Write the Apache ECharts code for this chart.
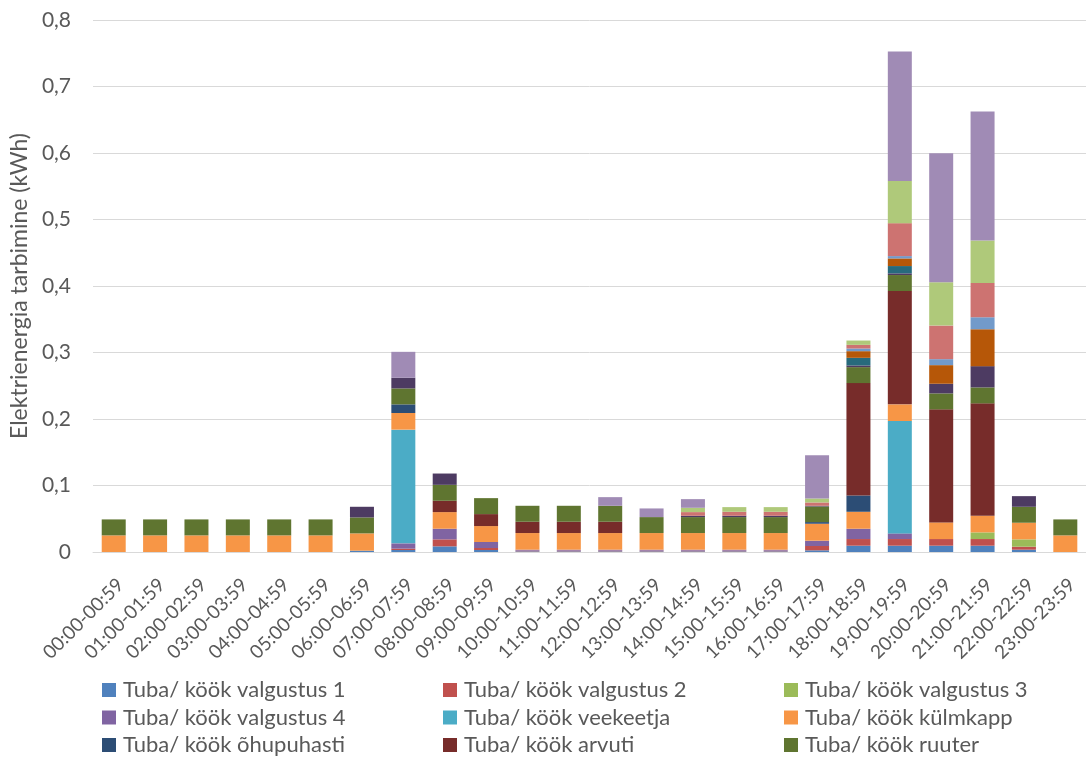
<!DOCTYPE html>
<html>
<head>
<meta charset="utf-8">
<script src="https://cdn.jsdelivr.net/npm/echarts@6/dist/echarts.min.js"></script>
<style>
  html, body { margin: 0; padding: 0; background: #fff; }
  #chart { width: 1086px; height: 758px; }
</style>
</head>
<body>
<div id="chart"></div>
<script>
// Hourly electricity use of room/kitchen appliances (kWh), stacked per hour
const hours = [
  '00:00-00:59', '01:00-01:59', '02:00-02:59', '03:00-03:59', '04:00-04:59', '05:00-05:59',
  '06:00-06:59', '07:00-07:59', '08:00-08:59', '09:00-09:59', '10:00-10:59', '11:00-11:59',
  '12:00-12:59', '13:00-13:59', '14:00-14:59', '15:00-15:59', '16:00-16:59', '17:00-17:59',
  '18:00-18:59', '19:00-19:59', '20:00-20:59', '21:00-21:59', '22:00-22:59', '23:00-23:59'
];
const yTicks = ['0', '0,1', '0,2', '0,3', '0,4', '0,5', '0,6', '0,7', '0,8'];

const valgustus1 = [0, 0, 0, 0, 0, 0, 0.002, 0.003, 0.0085, 0.003, 0.001, 0.001, 0.001, 0.001, 0.001, 0.001, 0.001, 0.0025, 0.0095, 0.0095, 0.0095, 0.0095, 0.0035, 0];
const valgustus2 = [0, 0, 0, 0, 0, 0, 0, 0.002, 0.0105, 0.003, 0.001, 0.001, 0.001, 0.001, 0.001, 0.001, 0.001, 0.0065, 0.010, 0.010, 0.010, 0.010, 0.0045, 0];
const valgustus3 = [0, 0, 0, 0, 0, 0, 0, 0, 0, 0, 0, 0, 0, 0, 0, 0, 0, 0, 0, 0, 0, 0.010, 0.011, 0];
const valgustus4 = [0, 0, 0, 0, 0, 0, 0, 0.008, 0.016, 0.009, 0.0015, 0.0015, 0.0015, 0.0015, 0.0015, 0.0015, 0.0015, 0.008, 0.0155, 0.0085, 0, 0, 0, 0];
const veekeetja  = [0, 0, 0, 0, 0, 0, 0, 0.171, 0, 0, 0, 0, 0, 0, 0, 0, 0, 0, 0, 0.169, 0, 0, 0, 0];
const kulmkapp   = [0.025, 0.025, 0.025, 0.025, 0.025, 0.025, 0.026, 0.025, 0.025, 0.024, 0.025, 0.025, 0.025, 0.025, 0.025, 0.025, 0.025, 0.0255, 0.0255, 0.025, 0.025, 0.025, 0.025, 0.025];
const ohupuhasti = [0, 0, 0, 0, 0, 0, 0, 0.013, 0, 0, 0, 0, 0, 0, 0, 0, 0, 0.0025, 0.0245, 0, 0, 0, 0, 0];
const arvuti     = [0, 0, 0, 0, 0, 0, 0, 0, 0.017, 0.018, 0.017, 0.017, 0.017, 0, 0, 0, 0, 0, 0.169, 0.1705, 0.170, 0.169, 0, 0];
const ruuter     = [0.024, 0.024, 0.024, 0.024, 0.024, 0.024, 0.024, 0.024, 0.024, 0.024, 0.024, 0.024, 0.024, 0.024, 0.024, 0.024, 0.024, 0.0235, 0.024, 0.024, 0.024, 0.024, 0.024, 0.024];
const seade10    = [0, 0, 0, 0, 0, 0, 0.016, 0.016, 0.017, 0, 0, 0, 0, 0, 0.002, 0.002, 0.002, 0.001, 0.0025, 0.0025, 0.0145, 0.032, 0.016, 0];
const seade11    = [0, 0, 0, 0, 0, 0, 0, 0, 0, 0, 0, 0, 0, 0, 0, 0, 0, 0, 0.0115, 0.011, 0, 0, 0, 0];
const seade12    = [0, 0, 0, 0, 0, 0, 0, 0, 0, 0, 0, 0, 0, 0, 0, 0, 0, 0, 0.010, 0.0115, 0.028, 0.0555, 0, 0];
const seade13    = [0, 0, 0, 0, 0, 0, 0, 0, 0, 0, 0, 0, 0, 0, 0, 0, 0, 0, 0.004, 0.0035, 0.009, 0.018, 0, 0];
const seade14    = [0, 0, 0, 0, 0, 0, 0, 0, 0, 0, 0, 0, 0, 0, 0.0055, 0.006, 0.006, 0.005, 0.0055, 0.0495, 0.0505, 0.0515, 0, 0];
const seade15    = [0, 0, 0, 0, 0, 0, 0, 0, 0, 0, 0, 0, 0, 0, 0.0065, 0.007, 0.007, 0.006, 0.0065, 0.0635, 0.065, 0.064, 0, 0];
const seade16    = [0, 0, 0, 0, 0, 0, 0, 0.039, 0, 0, 0, 0, 0.013, 0.013, 0.013, 0, 0, 0.065, 0, 0.1945, 0.194, 0.194, 0, 0];

const seriesNames = [
  'Tuba/ köök valgustus 1', 'Tuba/ köök valgustus 2', 'Tuba/ köök valgustus 3',
  'Tuba/ köök valgustus 4', 'Tuba/ köök veekeetja', 'Tuba/ köök külmkapp',
  'Tuba/ köök õhupuhasti', 'Tuba/ köök arvuti', 'Tuba/ köök ruuter',
  'Seade 10', 'Seade 11', 'Seade 12', 'Seade 13', 'Seade 14', 'Seade 15', 'Seade 16'
];
const seriesData = [
  valgustus1, valgustus2, valgustus3, valgustus4, veekeetja, kulmkapp,
  ohupuhasti, arvuti, ruuter, seade10, seade11, seade12, seade13, seade14, seade15, seade16
];
const palette = [
  '#4F81BD', '#C0504D', '#9BBB59', '#8064A2', '#4BACC6', '#F79646',
  '#2C4D75', '#772C2A', '#5F7530', '#4D3B62', '#276A7C', '#B65708',
  '#729ACA', '#CD7371', '#AFC97A', '#A08BB5'
];

const FONT = 'Lato';
const TEXT = '#595959';

// legend laid out in three columns of three entries
const legendCols = [
  [seriesNames[0], seriesNames[3], seriesNames[6]],
  [seriesNames[1], seriesNames[4], seriesNames[7]],
  [seriesNames[2], seriesNames[5], seriesNames[8]]
];
const legendLeft = [102, 443, 784];

const chart = echarts.init(document.getElementById('chart'), null, { renderer: 'canvas' });

chart.setOption({
  animation: false,
  color: palette,
  textStyle: { fontFamily: FONT },
  grid: { left: 91, width: 1000, top: 20, bottom: 206, containLabel: false },
  legend: legendCols.map((col, i) => ({
    data: col,
    orient: 'vertical',
    left: legendLeft[i],
    top: 679,
    height: 90,
    padding: 0,
    itemWidth: 14,
    itemHeight: 14,
    itemGap: 5.5,
    icon: 'rect',
    selectedMode: false,
    textStyle: { fontFamily: FONT, fontSize: 22, color: TEXT, lineHeight: 22, padding: [0, 0, 0, 2] }
  })),
  xAxis: {
    type: 'category',
    data: hours,
    axisLine: { lineStyle: { color: '#D9D9D9', width: 1 } },
    axisTick: { show: false },
    axisLabel: {
      rotate: 45,
      interval: 0,
      margin: 23,
      verticalAlign: 'top',
      fontFamily: FONT,
      fontSize: 19,
      color: TEXT
    }
  },
  yAxis: {
    type: 'value',
    min: 0,
    max: 0.8,
    interval: 0.1,
    name: 'Elektrienergia tarbimine (kWh)',
    nameLocation: 'middle',
    nameRotate: 90,
    nameGap: 58,
    nameTextStyle: { fontFamily: FONT, fontSize: 23, color: TEXT },
    axisLine: { show: false },
    axisTick: { show: false },
    splitLine: { lineStyle: { color: '#D9D9D9', width: 1 } },
    axisLabel: {
      margin: 22,
      fontFamily: FONT,
      fontSize: 21,
      color: TEXT,
      formatter: (v) => yTicks[Math.round(v * 10)]
    }
  },
  series: seriesNames.map((name, i) => ({
    name,
    type: 'bar',
    stack: 'kokku',
    barWidth: 24,
    data: seriesData[i],
    itemStyle: { color: palette[i] }
  }))
});
</script>
</body>
</html>
